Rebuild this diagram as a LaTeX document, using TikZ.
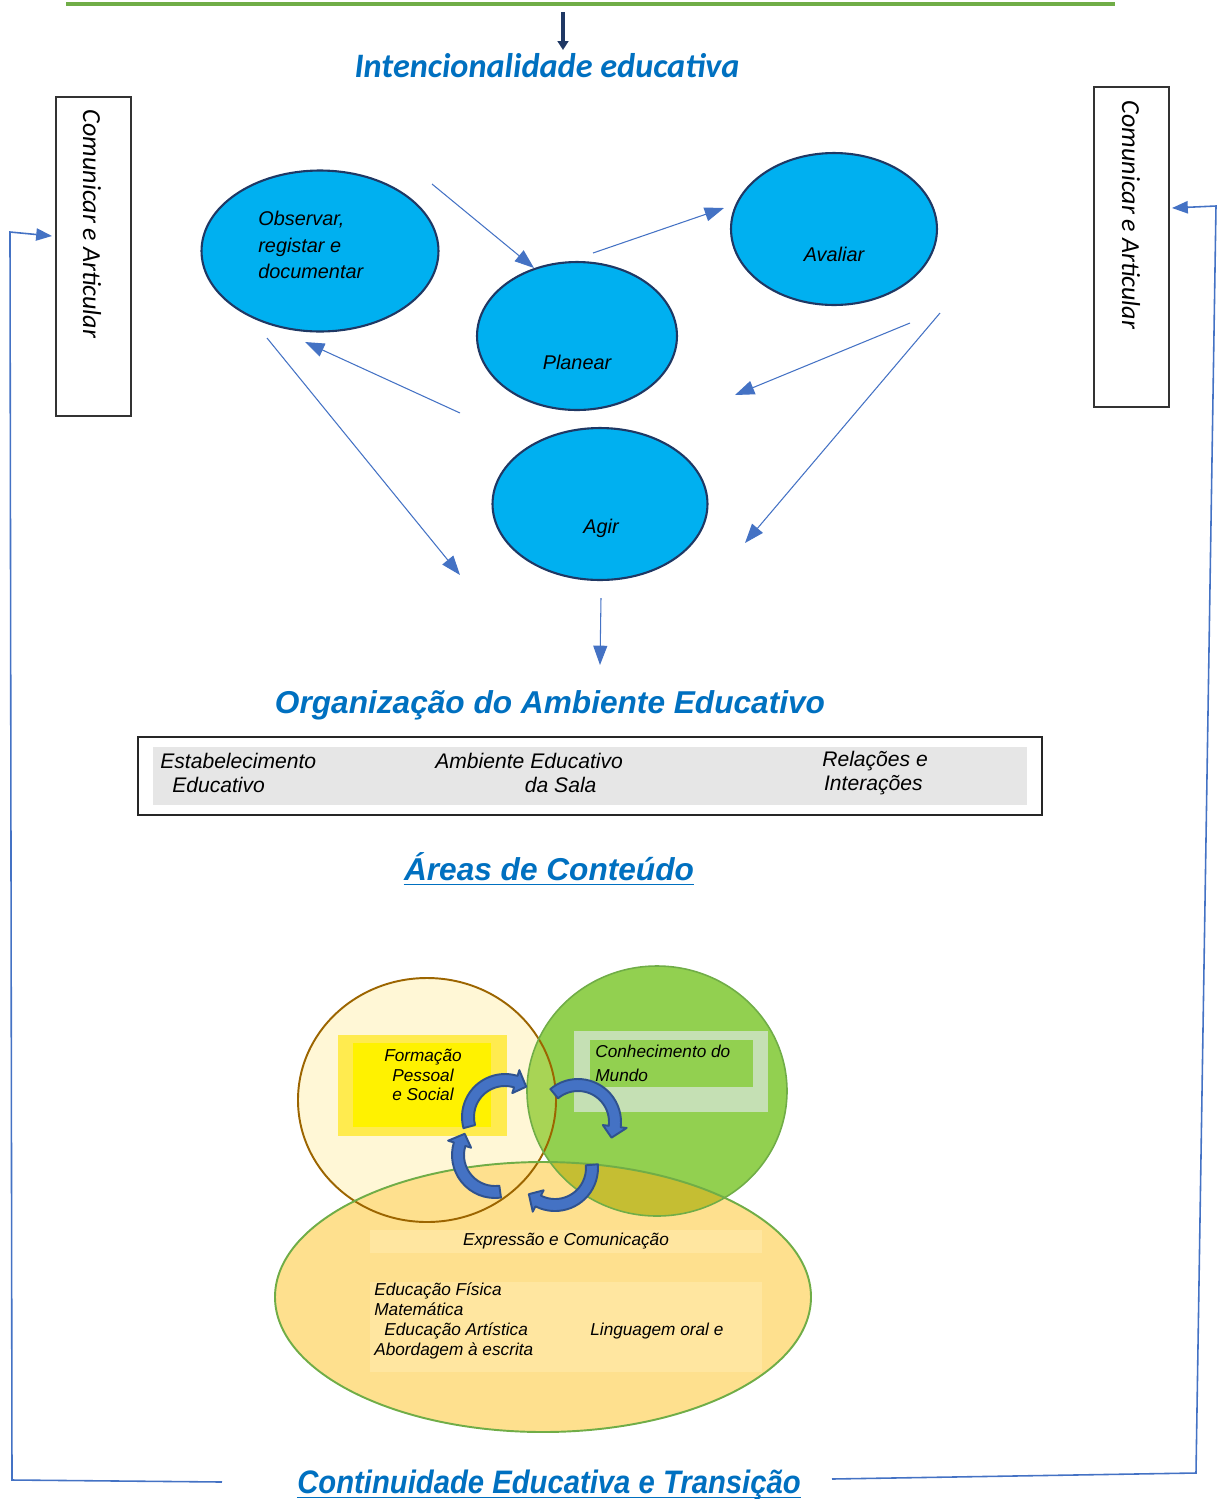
\documentclass[tikz,border=0pt]{standalone}
\usepackage{fontspec}
\setmainfont{Liberation Sans}
\newfontfamily\calibri{Carlito}
\usetikzlibrary{shapes.geometric,arrows.meta}

\definecolor{titleblue}{HTML}{0070C0}
\definecolor{cyanfill}{HTML}{00B0F0}
\definecolor{navy}{HTML}{1F3864}
\definecolor{arrowblue}{HTML}{4472C4}
\definecolor{darkarrow}{HTML}{2F528F}
\definecolor{linegreen}{HTML}{70AD47}
\definecolor{boxgray}{HTML}{E6E6E6}
\definecolor{cream}{HTML}{FFF7D6}
\definecolor{brownline}{HTML}{9C6500}
\definecolor{leafgreen}{HTML}{92D050}
\definecolor{overgreen}{HTML}{A8D455}
\definecolor{sand}{HTML}{FEE08E}
\definecolor{olive}{HTML}{C5BE33}
\definecolor{strip}{HTML}{FFE6A0}
\definecolor{paleyellow}{HTML}{FFEB4F}
\definecolor{palegreen}{HTML}{C5E0B4}

\newcommand{\cyclearrow}[4]{%
\begin{scope}[shift={(#1,#2)}]
\filldraw[cycarr] (#3:43) arc[start angle=#3, end angle=#4-18, radius=43]
  -- (#4-18:49) -- (#4:37) -- (#4-18:25) -- (#4-18:31)
  arc[start angle=#4-18, end angle=#3, radius=31] -- cycle;
\end{scope}}

\begin{document}
\begin{tikzpicture}[x=0.02cm,y=-0.02cm]
\tikzstyle{every node}+=[inner sep=0pt]
\tikzstyle{cyc}=[ellipse, draw=navy, line width=1.2pt, fill=cyanfill]
\tikzstyle{etext}=[font=\itshape\fontsize{11.3}{15.3}\selectfont]
\tikzstyle{lnk}=[arrowblue, line width=0.6pt, -{Triangle[length=11pt,width=8pt]}]
\tikzstyle{side}=[draw=black!80, line width=0.7pt, minimum width=1.5cm]
\tikzstyle{sidetext}=[rotate=-90, font=\calibri\itshape\fontsize{14.8}{17}\selectfont]
\tikzstyle{title}=[text=titleblue, font=\bfseries\itshape\fontsize{18}{22}\selectfont]
\tikzstyle{btext}=[font=\itshape\fontsize{12}{13.6}\selectfont, align=left, anchor=west]
\tikzstyle{vtext}=[font=\itshape\fontsize{9.8}{11.3}\selectfont]
\tikzstyle{cycarr}=[fill=arrowblue, draw=darkarrow, line width=1.1pt, line join=round]
\useasboundingbox (0,0) rectangle (1223,1499);

\draw[linegreen, line width=2.3pt] (66,4) -- (1115,4);
\coordinate (topa) at (563,12);
\coordinate (topb) at (563,50);
\draw[navy, line width=1.8pt, -{Triangle[length=5pt,width=6pt]}] (topa) -- (topb);
\node[text=titleblue, font=\calibri\bfseries\itshape\fontsize{19.5}{23}\selectfont] (intent) at (547,66) {Intencionalidade educativa};

\node[side, minimum height=6.38cm] (lbox) at (93.5,256.5) {};
\node[sidetext] (ltext) at (92,224) {Comunicar e Articular};
\node[side, minimum height=6.4cm] (rbox) at (1131.5,247) {};
\node[sidetext] (rtext) at (1131,215) {Comunicar e Articular};

\node[cyc, minimum width=4.74cm, minimum height=3.22cm] (obs) at (320,251) {};
\node[cyc, minimum width=4cm, minimum height=2.96cm] (plan) at (577,336) {};
\node[cyc, minimum width=4.12cm, minimum height=3.04cm] (aval) at (834,229) {};
\node[cyc, minimum width=4.3cm, minimum height=3.04cm] (agir) at (600,504) {};
\node[etext, anchor=west, align=left] (obs-t) at (258,245) {Observar,\\registar e\\documentar};
\node[etext] (plan-t) at (577,362) {Planear};
\node[etext] (aval-t) at (834,254) {Avaliar};
\node[etext] (agir-t) at (601,528) {Agir};

\coordinate (obs-out) at (432,184);
\coordinate (plan-in) at (534,268);
\coordinate (plan-out) at (593,253);
\coordinate (aval-in) at (724,208);
\coordinate (aval-out) at (910,323);
\coordinate (plan-back) at (735,395);
\coordinate (aval-down) at (940,313);
\coordinate (agir-in) at (745,543);
\coordinate (agir-out) at (460,413);
\coordinate (obs-in) at (305,342);
\coordinate (obs-down) at (267,338);
\coordinate (agir-back) at (460,575);
\coordinate (agir-bot) at (601,598);
\coordinate (org-in) at (600,665);
\draw[lnk] (obs-out) -- (plan-in);
\draw[lnk] (plan-out) -- (aval-in);
\draw[lnk] (aval-out) -- (plan-back);
\draw[lnk] (aval-down) -- (agir-in);
\draw[lnk] (agir-out) -- (obs-in);
\draw[lnk] (obs-down) -- (agir-back);
\draw[lnk] (agir-bot) -- (org-in);

\node[title] (org) at (550,705) {Organização do Ambiente Educativo};
\node[draw=black!85, line width=0.7pt, minimum width=18.08cm, minimum height=1.56cm] (ambox) at (590,776) {};
\fill[boxgray] (153,747) rectangle (1027,805);
\node[btext] (estab) at (160,773) {Estabelecimento\\\hspace*{6.8pt}Educativo};
\node[btext] (sala) at (435,773) {Ambiente Educativo\\\hspace*{51pt}da Sala};
\node[btext] (rel) at (822,773) {Relações e\\\hspace*{1pt}Interações};

\node[title, anchor=base] (areas) at (549,880) {Áreas de Conteúdo};
\draw[titleblue, line width=1pt] ([yshift=-2.5pt]areas.base west) -- ([yshift=-2.5pt]areas.base east);

% venn of content areas
\fill[cream] (427,1100) ellipse [x radius=129, y radius=122];
\fill[leafgreen] (657,1091) ellipse [x radius=130, y radius=125];
\begin{scope}
\clip (427,1100) ellipse [x radius=129, y radius=122];
\fill[overgreen] (657,1091) ellipse [x radius=130, y radius=125];
\end{scope}
\fill[sand] (543,1297) ellipse [x radius=268, y radius=135];
\begin{scope}
\clip (543,1297) ellipse [x radius=268, y radius=135];
\fill[olive] (657,1091) ellipse [x radius=130, y radius=125];
\end{scope}
\draw[brownline, line width=1.1pt] (427,1100) ellipse [x radius=129, y radius=122];
\draw[linegreen, line width=0.9pt] (657,1091) ellipse [x radius=130, y radius=125];
\draw[linegreen, line width=1.1pt] (543,1297) ellipse [x radius=268, y radius=135];

\fill[paleyellow] (338,1035) rectangle (507,1136);
\fill[yellow] (353,1043) rectangle (491,1127);
\fill[palegreen] (574,1031) rectangle (768,1112);
\fill[leafgreen] (590,1040) rectangle (753,1087);
\fill[strip] (370,1230) rectangle (762,1253);
\fill[strip] (370,1282) rectangle (762,1372);

\node[vtext, align=center] (fps) at (423,1075) {Formação\\Pessoal\\e Social};
\node[vtext, align=left, anchor=west, font=\itshape\fontsize{9.8}{13.6}\selectfont] (cm) at (595,1063) {Conhecimento do\\Mundo};
\node[vtext] (ec) at (566,1241) {Expressão e Comunicação};
\node[vtext, align=left, anchor=west] (dom) at (374,1321) {Educação Física\\Matemática\\\hspace*{5.7pt}Educação Artística\\Abordagem à escrita};
\node[vtext, anchor=west] (ling) at (590,1331) {Linguagem oral e};

\cyclearrow{505}{1117}{165}{305}
\cyclearrow{578}{1122}{230}{385}
\cyclearrow{555}{1168}{-5}{135}
\cyclearrow{495}{1155}{82}{215}

\node[title, anchor=base, font=\bfseries\itshape\fontsize{18.5}{22}\selectfont] (cont) at (549,1493) {\scalebox{0.9}[1]{Continuidade Educativa e Transição}};
\draw[titleblue, line width=1pt] ([yshift=-2.5pt]cont.base west) -- ([yshift=-2.5pt]cont.base east);

\coordinate (lbot) at (222,1482);
\coordinate (la) at (52,236);
\coordinate (rbot) at (832,1479);
\coordinate (ra) at (1172,208);
\draw[arrowblue, line width=0.9pt, -{Triangle[length=9pt,width=7pt]}] (lbot) -- (12,1480) -- (10,232) -- (la);
\draw[arrowblue, line width=0.9pt, -{Triangle[length=9pt,width=7pt]}] (rbot) -- (1196,1473) -- (1216,206) -- (ra);
\end{tikzpicture}
\end{document}
